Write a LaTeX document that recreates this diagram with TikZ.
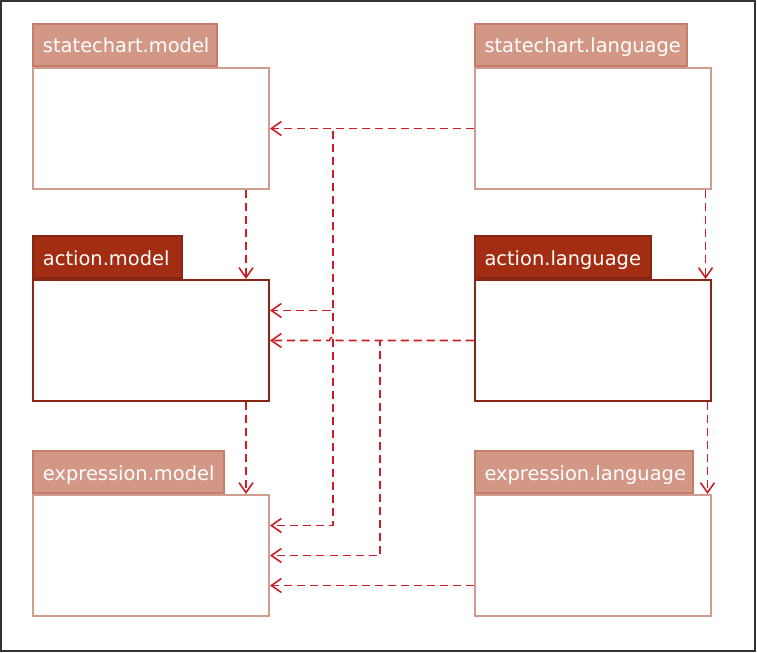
\documentclass[tikz,border=0pt]{standalone}
\usepackage{fontspec}
\setmainfont{DejaVu Sans}
\usetikzlibrary{arrows.meta}
\definecolor{pkglight}{RGB}{211,151,134}
\definecolor{pkglightline}{RGB}{196,125,105}
\definecolor{bodylightline}{RGB}{207,156,142}
\definecolor{pkgdark}{RGB}{163,45,18}
\definecolor{pkgdarkline}{RGB}{135,38,18}
\definecolor{deparrow}{RGB}{204,30,36}
\begin{document}
\begin{tikzpicture}[x=1bp, y=-1bp,
    every node/.style={rectangle, draw, line width=2bp, inner sep=0pt},
    body/.style={fill=white, minimum width=236bp, minimum height=121bp},
    lightbody/.style={body, draw=bodylightline},
    darkbody/.style={body, draw=pkgdarkline},
    tab/.style={anchor=south west, minimum height=42bp, inner xsep=10bp, align=left,
                text=white, font=\fontsize{19.5}{24}\selectfont, text height=17bp, text depth=1bp, text width=#1},
    lighttab/.style={tab=#1, fill=pkglight, draw=pkglightline},
    darktab/.style={tab=#1, fill=pkgdark, draw=pkgdarkline},
    dep/.style={draw=deparrow, line width=1.6bp, dash pattern=on 8bp off 5bp,
                -{Straight Barb[length=10bp, width=14bp]}},
]
  \useasboundingbox (0,0) rectangle (757,653);
  \draw [line width=1.2bp, black!80] (1,1) rectangle (755,651);

  \node [lightbody]       (scm)    at (151,128.5)       {};
  \node [lighttab=164bp]  (scmtab) at (scm.north west)  {statechart.model};
  \node [lightbody]       (scl)    at (592.5,128.5)     {};
  \node [lighttab=192bp]  (scltab) at (scl.north west)  {statechart.language};
  \node [darkbody]        (am)     at (151,340.5)       {};
  \node [darktab=129bp]   (amtab)  at (am.north west)   {action.model};
  \node [darkbody]        (al)     at (592.5,340.5)     {};
  \node [darktab=156bp]   (altab)  at (al.north west)   {action.language};
  \node [lightbody]       (em)     at (151,555.5)       {};
  \node [lighttab=171bp]  (emtab)  at (em.north west)   {expression.model};
  \node [lightbody]       (el)     at (592.5,555.5)     {};
  \node [lighttab=198bp]  (eltab)  at (el.north west)   {expression.language};

  \coordinate (trunk) at (333,128.5);
  \coordinate (split) at (380,340.5);

  \draw [dep] (scl.west) -- (scm.east);
  \draw [dep] (scl.west) -- (trunk) |- ([yshift=30bp]am.east);
  \draw [dep] (scl.west) -- (trunk) |- ([yshift=30bp]em.east);
  \draw [dep] (al.west) -- (336.5,340.5) arc [start angle=0, end angle=-180, radius=3.5] -- (am.east);
  \draw [dep] (al.west) -- (split) |- (em.east);
  \draw [dep] ([yshift=-30bp]el.west) -- ([yshift=-30bp]em.east);
  \draw [dep] ([xshift=-24bp]scm.south east) -- ([xshift=-24bp]am.north east);
  \draw [dep] ([xshift=-24bp]am.south east)  -- ([xshift=-24bp]em.north east);
  \draw [dep] ([xshift=-6bp]scl.south east)  -- ([xshift=-6bp]al.north east);
  \draw [dep] ([xshift=-4bp]al.south east)   -- ([xshift=-4bp]el.north east);
\end{tikzpicture}
\end{document}
